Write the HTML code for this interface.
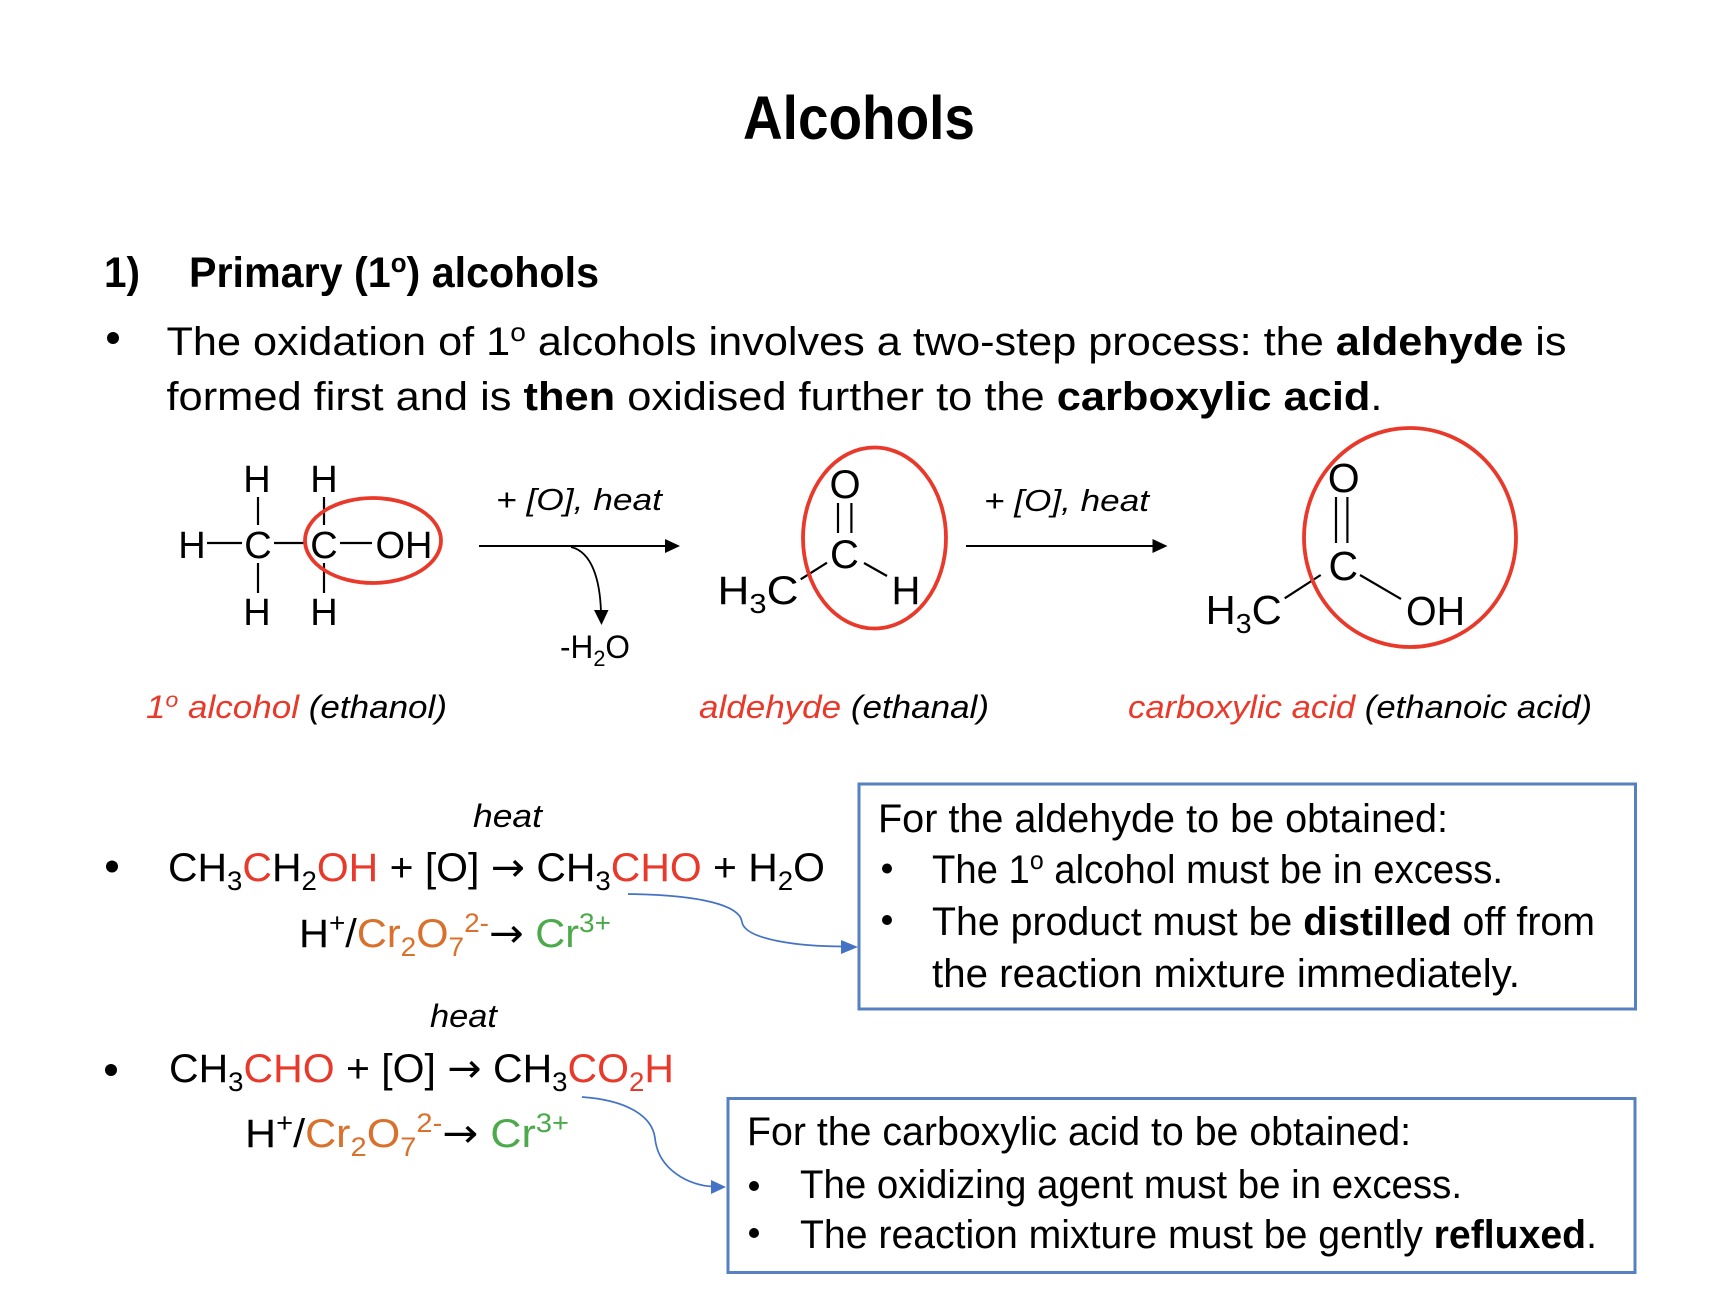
<!DOCTYPE html>
<html>
<head>
<meta charset="utf-8">
<style>
html,body{margin:0;padding:0;background:#fff;}
svg{display:block;}
text{font-family:"Liberation Sans",Arial,sans-serif;}
</style>
</head>
<body>
<svg xmlns="http://www.w3.org/2000/svg" width="1718" height="1290" viewBox="0 0 1718 1290">
<rect x="0" y="0" width="1718" height="1290" fill="#fff"/>

<!-- Title -->
<text x="743" y="139" font-size="61" font-weight="bold" textLength="232" lengthAdjust="spacingAndGlyphs">Alcohols</text>

<!-- Heading -->
<text x="104" y="287" font-size="43" font-weight="bold" textLength="36" lengthAdjust="spacingAndGlyphs">1)</text>
<text x="189" y="287" font-size="43" font-weight="bold" textLength="410" lengthAdjust="spacingAndGlyphs">Primary (1<tspan dy="-15" font-size="27">o</tspan><tspan dy="15">) alcohols</tspan></text>

<!-- Bullet paragraph -->
<circle cx="113" cy="338" r="6" fill="#000"/>
<text x="166.5" y="355" font-size="40" textLength="1400" lengthAdjust="spacingAndGlyphs">The oxidation of 1<tspan dy="-14" font-size="26">o</tspan><tspan dy="14"> alcohols involves a two-step process: the </tspan><tspan font-weight="bold">aldehyde</tspan> is</text>
<text x="166.5" y="410" font-size="40" textLength="1216" lengthAdjust="spacingAndGlyphs">formed first and is <tspan font-weight="bold">then</tspan> oxidised further to the <tspan font-weight="bold">carboxylic acid</tspan>.</text>

<!-- Ethanol structure -->
<g font-size="38" text-anchor="middle" fill="#000">
  <text x="257" y="492">H</text>
  <text x="324" y="492">H</text>
  <text x="192" y="558">H</text>
  <text x="258" y="558">C</text>
  <text x="324" y="558">C</text>
  <text x="404" y="558">OH</text>
  <text x="257" y="625">H</text>
  <text x="324" y="625">H</text>
</g>
<g stroke="#000" stroke-width="2.2" fill="none">
  <line x1="207" y1="543" x2="242" y2="543"/>
  <line x1="274" y1="543" x2="307" y2="543"/>
  <line x1="340" y1="543" x2="372" y2="543"/>
  <line x1="258" y1="497" x2="258" y2="525"/>
  <line x1="324" y1="497" x2="324" y2="525"/>
  <line x1="258" y1="563" x2="258" y2="593"/>
  <line x1="324" y1="563" x2="324" y2="593"/>
</g>
<ellipse cx="373" cy="540.5" rx="68" ry="42.5" fill="none" stroke="#e8392a" stroke-width="3.8"/>

<!-- Arrow 1 -->
<line x1="479" y1="546" x2="667" y2="546" stroke="#000" stroke-width="2"/>
<polygon points="680,546 665,539 665,553" fill="#000"/>
<path d="M571,547 C592,552 600,580 601,612" fill="none" stroke="#000" stroke-width="1.8"/>
<polygon points="601.5,625 594,610 608.5,610" fill="#000"/>
<text x="496" y="510" font-size="31" font-style="italic" textLength="166" lengthAdjust="spacingAndGlyphs">+ [O], heat</text>
<text x="560" y="658" font-size="32" textLength="70" lengthAdjust="spacingAndGlyphs">-H<tspan dy="8" font-size="22">2</tspan><tspan dy="-8">O</tspan></text>

<!-- Aldehyde structure -->
<g font-size="40" text-anchor="middle" fill="#000">
  <text x="845" y="498">O</text>
  <text x="844.5" y="568">C</text>
  <text x="906" y="604">H</text>
</g>
<text x="717.5" y="604" font-size="40" textLength="81" lengthAdjust="spacingAndGlyphs">H<tspan dy="9" font-size="28">3</tspan><tspan dy="-9">C</tspan></text>
<g stroke="#000" stroke-width="2.2">
  <line x1="838" y1="503" x2="838" y2="533"/>
  <line x1="851.4" y1="503" x2="851.4" y2="533"/>
  <line x1="827" y1="562.7" x2="800.7" y2="579.3"/>
  <line x1="864" y1="563" x2="887" y2="576"/>
</g>
<ellipse cx="874.5" cy="538" rx="71.5" ry="90.5" fill="none" stroke="#e8392a" stroke-width="3.8"/>

<!-- Arrow 2 -->
<line x1="966" y1="546" x2="1154" y2="546" stroke="#000" stroke-width="2"/>
<polygon points="1167.5,546 1152.5,539 1152.5,553" fill="#000"/>
<text x="984" y="511" font-size="31" font-style="italic" textLength="165" lengthAdjust="spacingAndGlyphs">+ [O], heat</text>

<!-- Carboxylic acid structure -->
<g font-size="41" text-anchor="middle" fill="#000">
  <text x="1343.7" y="492">O</text>
  <text x="1343.3" y="580">C</text>
</g>
<text x="1406" y="625" font-size="41" textLength="59" lengthAdjust="spacingAndGlyphs">OH</text>
<text x="1205.7" y="624" font-size="41" textLength="76" lengthAdjust="spacingAndGlyphs">H<tspan dy="9" font-size="28">3</tspan><tspan dy="-9">C</tspan></text>
<g stroke="#000" stroke-width="2.2">
  <line x1="1336" y1="497" x2="1336" y2="543"/>
  <line x1="1347.4" y1="497" x2="1347.4" y2="543"/>
  <line x1="1320.7" y1="575" x2="1284.7" y2="598.3"/>
  <line x1="1360" y1="575" x2="1401" y2="599"/>
</g>
<ellipse cx="1410" cy="537.5" rx="106" ry="109.5" fill="none" stroke="#e8392a" stroke-width="3.8"/>

<!-- Labels -->
<text x="146" y="718" font-size="32" font-style="italic" textLength="301" lengthAdjust="spacingAndGlyphs"><tspan fill="#e8392a">1</tspan><tspan fill="#e8392a" dy="-11" font-size="21">o</tspan><tspan fill="#e8392a" dy="11"> alcohol</tspan> (ethanol)</text>
<text x="699" y="718" font-size="32" font-style="italic" textLength="290" lengthAdjust="spacingAndGlyphs"><tspan fill="#e8392a">aldehyde</tspan> (ethanal)</text>
<text x="1128" y="718" font-size="32" font-style="italic" textLength="464" lengthAdjust="spacingAndGlyphs"><tspan fill="#e8392a">carboxylic acid</tspan> (ethanoic acid)</text>

<!-- Equation 1 -->
<text x="473" y="827" font-size="32" font-style="italic" textLength="69" lengthAdjust="spacingAndGlyphs">heat</text>
<circle cx="112" cy="866.5" r="6" fill="#000"/>
<text x="168" y="881" font-size="40" textLength="657" lengthAdjust="spacingAndGlyphs">CH<tspan dy="9" font-size="27">3</tspan><tspan dy="-9" fill="#e8392a">C</tspan>H<tspan dy="9" font-size="27">2</tspan><tspan dy="-9" fill="#e8392a">OH</tspan> + [O] <tspan font-family="DejaVu Sans">→</tspan> CH<tspan dy="9" font-size="27">3</tspan><tspan dy="-9" fill="#e8392a">CHO</tspan> + H<tspan dy="9" font-size="27">2</tspan><tspan dy="-9">O</tspan></text>
<text x="299" y="947" font-size="40" textLength="312" lengthAdjust="spacingAndGlyphs">H<tspan dy="-15" font-size="27">+</tspan><tspan dy="15">/</tspan><tspan fill="#d9702b">Cr</tspan><tspan fill="#d9702b" dy="9" font-size="27">2</tspan><tspan fill="#d9702b" dy="-9">O</tspan><tspan fill="#d9702b" dy="9" font-size="27">7</tspan><tspan fill="#d9702b" dy="-24" font-size="27">2-</tspan><tspan dy="15" font-family="DejaVu Sans">→</tspan> <tspan fill="#4caa4c">Cr</tspan><tspan fill="#4caa4c" dy="-15" font-size="27">3+</tspan></text>

<!-- Blue connector 1 -->
<path d="M628,894 C700,895 740,905 742,922 C745,940 800,946.5 845,946.5" fill="none" stroke="#4472c4" stroke-width="1.7"/>
<polygon points="858,947 841,940 841,954" fill="#4472c4"/>

<!-- Box 1 -->
<rect x="859" y="784" width="776.5" height="225" fill="#fff" stroke="#5680c0" stroke-width="3"/>
<text x="878" y="832" font-size="40" textLength="570" lengthAdjust="spacingAndGlyphs">For the aldehyde to be obtained:</text>
<circle cx="887" cy="868.5" r="5" fill="#000"/>
<text x="932" y="883" font-size="40" textLength="571" lengthAdjust="spacingAndGlyphs">The 1<tspan dy="-14" font-size="26">o</tspan><tspan dy="14"> alcohol must be in excess.</tspan></text>
<circle cx="887" cy="920" r="5" fill="#000"/>
<text x="932" y="935" font-size="40" textLength="663" lengthAdjust="spacingAndGlyphs">The product must be <tspan font-weight="bold">distilled</tspan> off from</text>
<text x="932" y="987" font-size="40" textLength="588" lengthAdjust="spacingAndGlyphs">the reaction mixture immediately.</text>

<!-- Equation 2 -->
<text x="430" y="1027" font-size="32" font-style="italic" textLength="67" lengthAdjust="spacingAndGlyphs">heat</text>
<circle cx="111" cy="1070" r="6" fill="#000"/>
<text x="169" y="1082" font-size="40" textLength="505" lengthAdjust="spacingAndGlyphs">CH<tspan dy="9" font-size="27">3</tspan><tspan dy="-9" fill="#e8392a">CHO</tspan> + [O] <tspan font-family="DejaVu Sans">→</tspan> CH<tspan dy="9" font-size="27">3</tspan><tspan dy="-9" fill="#e8392a">CO</tspan><tspan fill="#e8392a" dy="9" font-size="27">2</tspan><tspan fill="#e8392a" dy="-9">H</tspan></text>
<text x="245" y="1147" font-size="40" textLength="324" lengthAdjust="spacingAndGlyphs">H<tspan dy="-15" font-size="27">+</tspan><tspan dy="15">/</tspan><tspan fill="#d9702b">Cr</tspan><tspan fill="#d9702b" dy="9" font-size="27">2</tspan><tspan fill="#d9702b" dy="-9">O</tspan><tspan fill="#d9702b" dy="9" font-size="27">7</tspan><tspan fill="#d9702b" dy="-24" font-size="27">2-</tspan><tspan dy="15" font-family="DejaVu Sans">→</tspan> <tspan fill="#4caa4c">Cr</tspan><tspan fill="#4caa4c" dy="-15" font-size="27">3+</tspan></text>

<!-- Blue connector 2 -->
<path d="M582,1097 C625,1100 652,1115 655,1138 C658,1170 690,1186 713,1186.5" fill="none" stroke="#4472c4" stroke-width="1.7"/>
<polygon points="726,1187 711,1180 711,1194" fill="#4472c4"/>

<!-- Box 2 -->
<rect x="728" y="1098.5" width="907" height="174" fill="#fff" stroke="#5680c0" stroke-width="3"/>
<text x="747" y="1145" font-size="40" textLength="664" lengthAdjust="spacingAndGlyphs">For the carboxylic acid to be obtained:</text>
<circle cx="754" cy="1186" r="5" fill="#000"/>
<text x="800" y="1198" font-size="40" textLength="662" lengthAdjust="spacingAndGlyphs">The oxidizing agent must be in excess.</text>
<circle cx="754" cy="1233" r="5" fill="#000"/>
<text x="800" y="1248" font-size="40" textLength="797" lengthAdjust="spacingAndGlyphs">The reaction mixture must be gently <tspan font-weight="bold">refluxed</tspan>.</text>
</svg>
</body>
</html>
